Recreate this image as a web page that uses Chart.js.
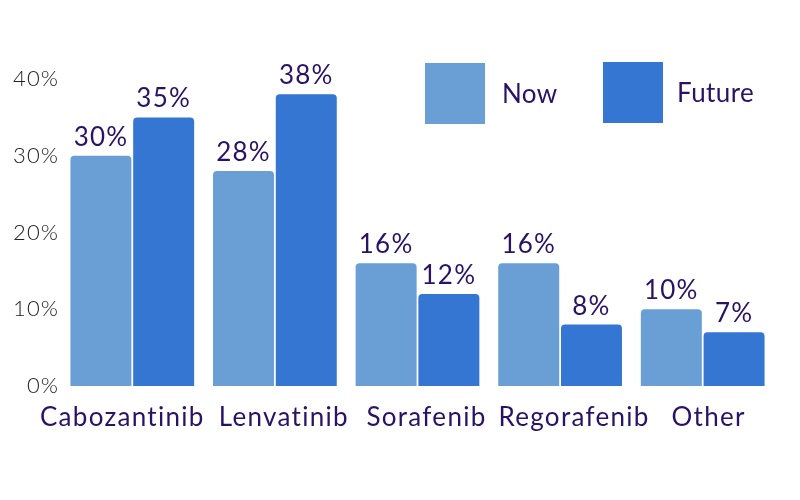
<!DOCTYPE html>
<html>
<head>
<meta charset="utf-8">
<script src="https://cdn.jsdelivr.net/npm/chart.js@4"></script>
<style>
  html, body { margin: 0; padding: 0; background: #fff; }
  #wrap { width: 800px; height: 500px; }
</style>
</head>
<body>
<div id="wrap"><canvas id="chart"></canvas></div>
<script>
const categories = ['Cabozantinib', 'Lenvatinib', 'Sorafenib', 'Regorafenib', 'Other'];
const nowValues = [30, 28, 16, 16, 10];
const futureValues = [35, 38, 12, 8, 7];
const seriesNames = ['Now', 'Future'];
const yTicks = [0, 10, 20, 30, 40];

const textColor = '#2a1266';
const fontFamily = 'Lato, "Noto Sans", sans-serif';
// the category names in the source sit a little off their bar groups
const labelNudge = [-10, 9, 9, 14, 6];

// the source font is wider than Lato, so open the letters up a bit
const wideText = {
    id: 'wideText',
    beforeDraw(chart) {
        chart.ctx.letterSpacing = '1.1px';
    }
};

// category names under the groups, placed from the x scale
const categoryLabels = {
    id: 'categoryLabels',
    afterDraw(chart) {
        const ctx = chart.ctx;
        const x = chart.scales.x;
        ctx.save();
        ctx.letterSpacing = '1.3px';
        ctx.fillStyle = textColor;
        ctx.font = '26px ' + fontFamily;
        ctx.textAlign = 'center';
        ctx.textBaseline = 'alphabetic';
        chart.data.labels.forEach((name, i) => {
            ctx.fillText(name, x.getPixelForValue(i) + labelNudge[i], x.top + 40);
        });
        ctx.restore();
    }
};

// value labels above each bar
const barLabels = {
    id: 'barLabels',
    afterDatasetsDraw(chart) {
        const ctx = chart.ctx;
        ctx.save();
        ctx.letterSpacing = '1.2px';
        ctx.fillStyle = textColor;
        ctx.font = '26px ' + fontFamily;
        ctx.textAlign = 'center';
        ctx.textBaseline = 'alphabetic';
        chart.data.datasets.forEach((ds, i) => {
            chart.getDatasetMeta(i).data.forEach((bar, j) => {
                ctx.fillText(ds.data[j] + '%', bar.x, bar.y - 10);
            });
        });
        ctx.restore();
    }
};

// big square legend inside the plot
const squareLegend = {
    id: 'squareLegend',
    afterDraw(chart) {
        const ctx = chart.ctx;
        const boxes = [{ x: 425, y: 63, tx: 502 }, { x: 603, y: 62, tx: 677 }];
        ctx.save();
        ctx.letterSpacing = '0.4px';
        ctx.font = '26px ' + fontFamily;
        ctx.textBaseline = 'middle';
        chart.data.datasets.forEach((ds, i) => {
            const b = boxes[i];
            ctx.fillStyle = ds.backgroundColor;
            ctx.fillRect(b.x, b.y, 60, 61);
            ctx.fillStyle = textColor;
            ctx.fillText(ds.label, b.tx, b.y + 32);
        });
        ctx.restore();
    }
};

new Chart(document.getElementById('chart'), {
    type: 'bar',
    data: {
        labels: categories,
        datasets: [{
            label: seriesNames[0],
            data: nowValues,
            backgroundColor: '#6a9fd6',
            borderRadius: { topLeft: 4, topRight: 4 },
            borderSkipped: 'bottom'
        }, {
            label: seriesNames[1],
            data: futureValues,
            backgroundColor: '#3476d2',
            borderRadius: { topLeft: 4, topRight: 4 },
            borderSkipped: 'bottom'
        }]
    },
    options: {
        responsive: true,
        maintainAspectRatio: false,
        animation: false,
        categoryPercentage: 0.88,
        barPercentage: 0.972,
        layout: { padding: { top: 79, right: 26, left: 0, bottom: 0 } },
        plugins: {
            legend: { display: false },
            tooltip: { enabled: false }
        },
        scales: {
            x: {
                grid: { display: false, drawTicks: false },
                border: { display: false },
                ticks: { display: false },
                afterFit(scale) { scale.height = 114; }
            },
            y: {
                min: 0,
                max: 40,
                grid: { display: false, drawTicks: false },
                border: { display: false },
                afterBuildTicks(scale) {
                    scale.ticks = yTicks.map(v => ({ value: v }));
                },
                ticks: {
                    color: '#222',
                    font: { family: fontFamily, size: 22, weight: 300 },
                    padding: 2,
                    callback: v => v + '%'
                },
                afterFit(scale) { scale.width = 61; }
            }
        }
    },
    plugins: [wideText, barLabels, categoryLabels, squareLegend]
});
</script>
</body>
</html>
